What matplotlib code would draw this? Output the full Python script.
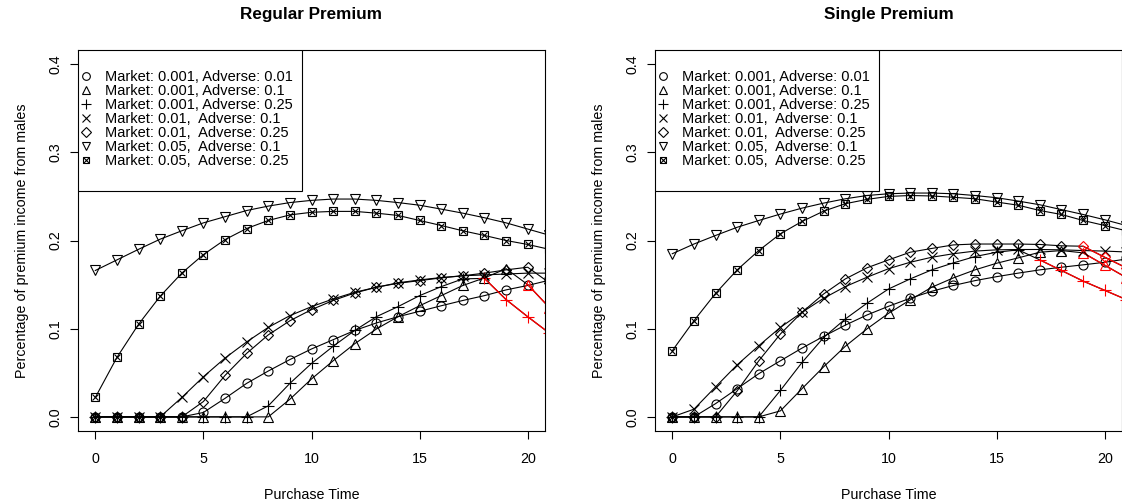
import numpy as np
import matplotlib
matplotlib.use("Agg")
import matplotlib.pyplot as plt
from matplotlib.lines import Line2D
from matplotlib.patches import Rectangle

plt.rcParams['font.family'] = ['Liberation Sans', 'DejaVu Sans']
plt.rcParams['font.size'] = 10.3

purchase_time = np.arange(22)

labels = ["Market: 0.001, Adverse: 0.01",
          "Market: 0.001, Adverse: 0.1",
          "Market: 0.001, Adverse: 0.25",
          "Market: 0.01,  Adverse: 0.1",
          "Market: 0.01,  Adverse: 0.25",
          "Market: 0.05,  Adverse: 0.1",
          "Market: 0.05,  Adverse: 0.25"]

# Regular premium
reg_m001_a001 = [0, 0, 0, 0, 0, 0.005, 0.021, 0.038, 0.052, 0.065, 0.077, 0.0875, 0.098, 0.1065,
                 0.1136, 0.1197, 0.126, 0.132, 0.1375, 0.144, 0.149, 0.155]
reg_m001_a01 = [0, 0, 0, 0, 0, 0, 0, 0, 0, 0.020, 0.043, 0.0636, 0.083, 0.0996, 0.1136, 0.126,
                0.1375, 0.149, 0.1576, 0.168, 0.150, 0.124]
reg_m001_a025 = [0, 0, 0, 0, 0, 0, 0, 0, 0.0125, 0.038, 0.0606, 0.080, 0.098, 0.1136, 0.125,
                 0.1375, 0.1477, 0.1565, 0.157, 0.133, 0.1136, 0.095]
reg_m01_a01 = [0, 0, 0, 0, 0.022, 0.0455, 0.0667, 0.085, 0.1015, 0.1148, 0.125, 0.1337, 0.1413,
               0.147, 0.152, 0.1553, 0.158, 0.160, 0.161, 0.162, 0.163, 0.163]
reg_m01_a025 = [0, 0, 0, 0, 0, 0.0174, 0.047, 0.072, 0.093, 0.109, 0.1216, 0.132, 0.1405, 0.147,
                0.1515, 0.1545, 0.1576, 0.160, 0.163, 0.1667, 0.1697, 0.152]
reg_m05_a01 = [0.166, 0.178, 0.190, 0.2015, 0.211, 0.220, 0.227, 0.234, 0.239, 0.243, 0.2455,
               0.247, 0.247, 0.2455, 0.243, 0.240, 0.2356, 0.231, 0.2258, 0.220, 0.213, 0.206]
reg_m05_a025 = [0.022, 0.0674, 0.105, 0.1368, 0.163, 0.184, 0.201, 0.2136, 0.2227, 0.229, 0.232,
                0.233, 0.233, 0.231, 0.2284, 0.2227, 0.217, 0.211, 0.2057, 0.200, 0.1955, 0.190]
# index from which each regular series is drawn red (None = never)
reg_red_from = [None, 20, 18, None, None, None, None]

# Single premium
sgl_m001_a001 = [0, 0, 0.015, 0.032, 0.049, 0.0636, 0.078, 0.0913, 0.104, 0.1155, 0.1254, 0.1345,
                 0.1424, 0.149, 0.1545, 0.159, 0.163, 0.1667, 0.1697, 0.1724, 0.1753, 0.179]
sgl_m001_a01 = [0, 0, 0, 0, 0, 0.0068, 0.032, 0.0568, 0.080, 0.0997, 0.1174, 0.1326, 0.147,
                0.1576, 0.1667, 0.1742, 0.1803, 0.1867, 0.1886, 0.186, 0.172, 0.158]
sgl_m001_a025 = [0, 0, 0, 0, 0, 0.030, 0.0617, 0.090, 0.111, 0.1288, 0.145, 0.1564, 0.1667,
                 0.1746, 0.1818, 0.1867, 0.1894, 0.178, 0.166, 0.154, 0.1435, 0.133]
sgl_m01_a01 = [0, 0.0087, 0.034, 0.059, 0.0807, 0.1015, 0.1186, 0.1345, 0.1477, 0.1583, 0.168,
               0.1753, 0.181, 0.185, 0.188, 0.1894, 0.1898, 0.1898, 0.1894, 0.1886, 0.188, 0.187]
sgl_m01_a025 = [0, 0, 0, 0.0295, 0.0636, 0.094, 0.1186, 0.1394, 0.1564, 0.169, 0.178, 0.1867,
                0.191, 0.195, 0.196, 0.196, 0.196, 0.1955, 0.194, 0.1935, 0.181, 0.169]
sgl_m05_a01 = [0.185, 0.196, 0.2057, 0.215, 0.2227, 0.230, 0.2367, 0.2424, 0.2473, 0.251, 0.253,
               0.2538, 0.2538, 0.253, 0.251, 0.2485, 0.2447, 0.2405, 0.235, 0.2295, 0.2235, 0.217]
sgl_m05_a025 = [0.075, 0.109, 0.140, 0.1667, 0.1886, 0.2076, 0.2216, 0.2333, 0.2417, 0.2466, 0.250,
                0.251, 0.2505, 0.249, 0.2473, 0.2436, 0.240, 0.234, 0.2295, 0.2227, 0.217, 0.211]
sgl_red_from = [None, 19, 17, None, 19, None, None]

regular = [reg_m001_a001, reg_m001_a01, reg_m001_a025, reg_m01_a01, reg_m01_a025, reg_m05_a01, reg_m05_a025]
single = [sgl_m001_a001, sgl_m001_a01, sgl_m001_a025, sgl_m01_a01, sgl_m01_a025, sgl_m05_a01, sgl_m05_a025]

# R pch 1..7
markers = ['o', '^', '+', 'x', 'D', 'v', 'boxx']
msizes = {'o': 6.5, '^': 7, '+': 8, 'x': 6.5, 'D': 5.5, 'v': 7, 's': 5.5}
LW = 0.8
RED = '#ff0000'


def draw_marker(ax, x, y, m, color):
    if m == 'boxx':
        ax.plot(x, y, ls='none', marker='s', ms=msizes['s'], mfc='none', mec=color, mew=LW)
        ax.plot(x, y, ls='none', marker='x', ms=msizes['s'] * 0.75, mec=color, mew=LW)
    else:
        ax.plot(x, y, ls='none', marker=m, ms=msizes[m], mfc='none', mec=color, mew=LW)


def panel(ax, series, red_from, title):
    for vals, m, rf in zip(series, markers, red_from):
        vals = np.array(vals)
        ax.plot(purchase_time, vals, color='black', lw=LW)
        if rf is None:
            draw_marker(ax, purchase_time, vals, m, 'black')
        else:
            draw_marker(ax, purchase_time[:rf], vals[:rf], m, 'black')
            ax.plot(purchase_time[rf:], vals[rf:], color=RED, lw=LW * 1.2)
            draw_marker(ax, purchase_time[rf:], vals[rf:], m, RED)
    ax.set_xlim(-0.8, 20.8)
    ax.set_ylim(-0.016, 0.416)
    ax.set_xticks([0, 5, 10, 15, 20])
    ax.set_yticks([0, 0.1, 0.2, 0.3, 0.4])
    ax.set_yticklabels(['0.0', '0.1', '0.2', '0.3', '0.4'], rotation=90, va='center')
    ax.tick_params(direction='out', length=6, width=0.8)
    ax.tick_params(axis='x', pad=9)
    ax.tick_params(axis='y', pad=5)
    for s in ax.spines.values():
        s.set_linewidth(0.8)
    ax.set_xlabel('Purchase Time', labelpad=16)
    ax.set_ylabel('Percentage of premium income from males', labelpad=14)
    ax.set_title(title, fontweight='bold', pad=22)

    # legend box like R's legend(): drawn separately so the padding can differ per side
    ax.add_patch(Rectangle((0, 0.63), 0.4797, 0.37, transform=ax.transAxes,
                           facecolor='white', edgecolor='black', lw=0.8, zorder=4))
    handles = []
    for m in markers:
        if m == 'boxx':
            h = (Line2D([], [], ls='none', marker='s', ms=5, mfc='none', mec='black', mew=LW),
                 Line2D([], [], ls='none', marker='x', ms=3.8, mec='black', mew=LW))
        else:
            h = Line2D([], [], ls='none', marker=m, ms=msizes[m] * 0.85, mfc='none', mec='black', mew=LW)
        handles.append(h)
    leg = ax.legend(handles, labels, loc='upper left', bbox_to_anchor=(1 / 467, 0.9475),
                    borderaxespad=0, frameon=False, handlelength=1.0, handletextpad=0.8,
                    labelspacing=0.0, borderpad=0, fontsize=10.5)
    leg.set_zorder(5)


fig = plt.figure(figsize=(11.22, 5.01), dpi=100)
ax1 = fig.add_axes([78 / 1122, 70 / 501, 467 / 1122, 381 / 501])
ax2 = fig.add_axes([655 / 1122, 70 / 501, 467 / 1122, 381 / 501])
panel(ax1, regular, reg_red_from, 'Regular Premium')
panel(ax2, single, sgl_red_from, 'Single Premium')

fig.savefig('out.png', dpi=100)
